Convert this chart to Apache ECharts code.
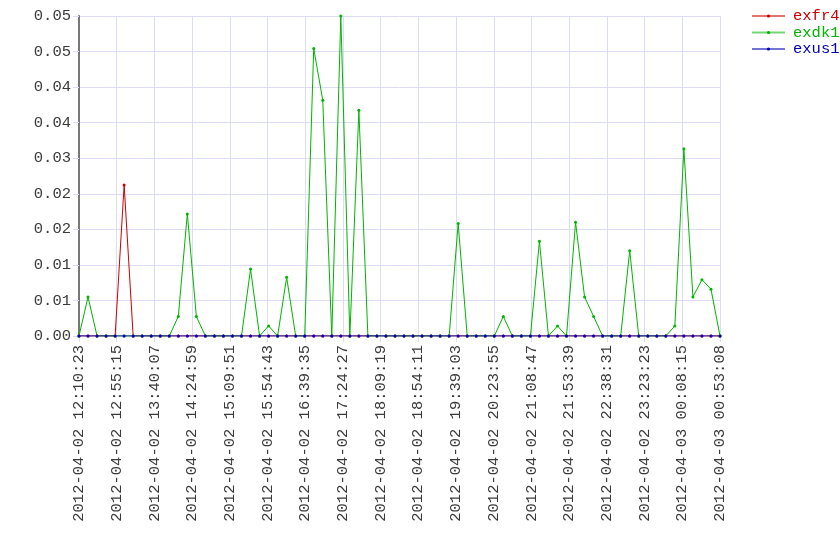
<!DOCTYPE html>
<html>
<head>
<meta charset="utf-8">
<script src="https://cdn.jsdelivr.net/npm/echarts@6/dist/echarts.min.js"></script>
<style>html,body{margin:0;padding:0;background:#fff}#c{width:840px;height:560px}</style>
</head>
<body>
<div id="c"></div>
<script>
// sample index categories (72 evenly spaced samples)
const categories = Array.from({length: 72}, (_, i) => String(i));

const tickLabels = [
  '2012-04-02 12:10:23','2012-04-02 12:55:15','2012-04-02 13:40:07','2012-04-02 14:24:59',
  '2012-04-02 15:09:51','2012-04-02 15:54:43','2012-04-02 16:39:35','2012-04-02 17:24:27',
  '2012-04-02 18:09:19','2012-04-02 18:54:11','2012-04-02 19:39:03','2012-04-02 20:23:55',
  '2012-04-02 21:08:47','2012-04-02 21:53:39','2012-04-02 22:38:31','2012-04-02 23:23:23',
  '2012-04-03 00:08:15','2012-04-03 00:53:08'
];

const exfr4 = [
  0,0,0,0,0,0.0255,0,0,0,0,
  0,0,0,0,0,0,0,0,0,0,
  0,0,0,0,0,0,0,0,0,0,
  0,0,0,0,0,0,0,0,0,0,
  0,0,0,0,0,0,0,0,0,0,
  0,0,0,0,0,0,0,0,0,0,
  0,0,0,0,0,0,0,0,0,0,
  0,0
];
const exdk1 = [
  0,0.0066,0,0,0,0,0,0,0,0,
  0,0.0033,0.0206,0.0033,0,0,0,0,0,0.0113,
  0,0.0017,0,0.0099,0,0,0.0485,0.0398,0,0.054,
  0,0.0381,0,0,0,0,0,0,0,0,
  0,0,0.0190,0,0,0,0,0.0033,0,0,
  0,0.0160,0,0.0017,0,0.0192,0.0066,0.0033,0,0,
  0,0.0144,0,0,0,0,0.0017,0.0316,0.0066,0.0095,
  0.0079,0
];
const exus1 = [
  0,0,0,0,0,0,0,0,0,0,
  0,0,0,0,0,0,0,0,0,0,
  0,0,0,0,0,0,0,0,0,0,
  0,0,0,0,0,0,0,0,0,0,
  0,0,0,0,0,0,0,0,0,0,
  0,0,0,0,0,0,0,0,0,0,
  0,0,0,0,0,0,0,0,0,0,
  0,0
];

const FONT = '"Liberation Mono", monospace';
const GRIDC = '#dcdcf6';
const TEXTC = '#3a3a3a';
const colors = {exfr4: '#cc0000', exdk1: '#00b400', exus1: '#0000b4'};

const chart = echarts.init(document.getElementById('c'), null, {renderer: 'canvas'});

function mkSeries(name, data) {
  return {
    name, type: 'line', data, xAxisIndex: 0, yAxisIndex: 0,
    symbol: 'circle', symbolSize: 3, showSymbol: true,
    lineStyle: {width: 1, color: colors[name]},
    itemStyle: {color: colors[name]},
    animation: false
  };
}

chart.setOption({
  animation: false,
  grid: {left: 79, right: 120, top: 16, bottom: 224, containLabel: false},
  legend: {
    orient: 'vertical', left: 746, top: 3,
    itemWidth: 33, itemHeight: 4, itemGap: 0.5,
    lineStyle: {width: 2, opacity: 0.55},
    textStyle: {fontFamily: FONT, fontSize: 15.5, padding: [0, 0, 0, 3]},
    data: ['exfr4','exdk1','exus1'].map(n => ({name: n, textStyle: {color: colors[n]}}))
  },
  xAxis: [
    {type: 'category', data: categories, boundaryGap: false, show: false},
    {
      type: 'value', min: 0, max: tickLabels.length - 1, interval: 1, position: 'bottom',
      axisLine: {show: true, lineStyle: {color: GRIDC}},
      axisTick: {show: true, length: 6, lineStyle: {color: GRIDC}},
      splitLine: {show: true, lineStyle: {color: GRIDC, width: 1}},
      axisLabel: {
        rotate: 90, margin: 9, color: TEXTC, fontFamily: FONT, fontSize: 15.5,
        formatter: v => tickLabels[Math.round(v)]
      }
    }
  ],
  yAxis: {
    type: 'value', min: 0, max: 0.054, interval: 0.006,
    axisLine: {show: true, lineStyle: {color: '#777', width: 2}},
    axisTick: {show: true, length: 6, lineStyle: {color: GRIDC}},
    splitLine: {show: true, lineStyle: {color: GRIDC, width: 1}},
    axisLabel: {margin: 8, color: TEXTC, fontFamily: FONT, fontSize: 15.5,
      formatter: v => v.toFixed(2)}
  },
  series: [mkSeries('exfr4', exfr4), mkSeries('exdk1', exdk1), mkSeries('exus1', exus1)]
});
</script>
</body>
</html>
